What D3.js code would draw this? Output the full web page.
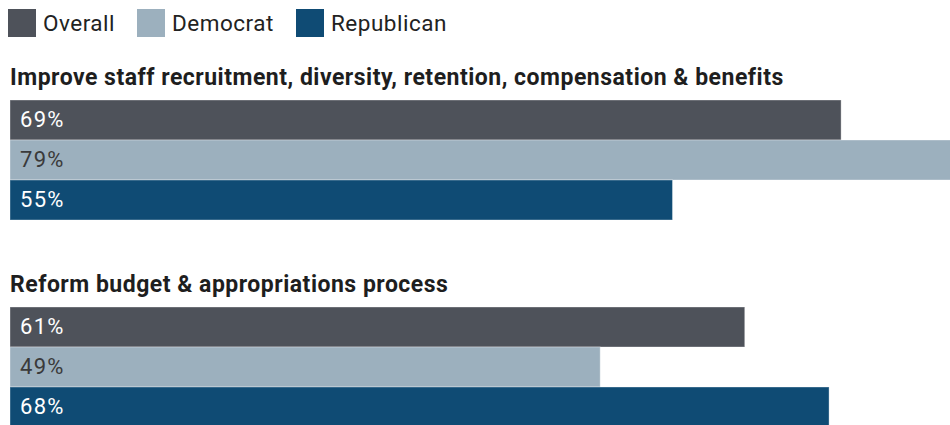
<!DOCTYPE html>
<html>
<head>
<meta charset="utf-8">
<script src="https://cdn.jsdelivr.net/npm/d3@7"></script>
<style>
  html, body { margin: 0; padding: 0; background: #fff; overflow: hidden; }
  svg { display: block; font-family: Roboto, "Noto Sans", sans-serif; }
</style>
</head>
<body>
<svg id="chart" width="950" height="425"></svg>
<script>
// Survey items and share of respondents supporting each, by group
const series = ["Overall", "Democrat", "Republican"];
const questions = [
  "Improve staff recruitment, diversity, retention, compensation & benefits",
  "Reform budget & appropriations process"
];
const overallValues = [69, 61];
const democratValues = [79, 49];
const republicanValues = [55, 68];
const valuesBySeries = [overallValues, democratValues, republicanValues];

const colors = { Overall: "#4e525a", Democrat: "#9cb0be", Republican: "#0f4b74" };
const labelColors = { Overall: "#ffffff", Democrat: "#3a3a3a", Republican: "#ffffff" };

const svg = d3.select("#chart");
const left = 10;
const pxPerPoint = 12.045;

const x = d3.scaleLinear().domain([0, 79]).range([left, left + 79 * pxPerPoint]);
const groupY = d3.scaleBand().domain(questions).range([68, 68 + 207 * 2]);
const barY = d3.scaleBand().domain(series).range([0, 120]).paddingInner(0);
const color = d3.scaleOrdinal().domain(series).range(series.map(s => colors[s]));

// Legend
const legend = svg.append("g").attr("class", "legend");
const legendX = [8, 137, 296];
series.forEach((s, i) => {
  const g = legend.append("g").attr("transform", `translate(${legendX[i]},9)`);
  g.append("rect").attr("width", 28).attr("height", 28).attr("fill", color(s));
  g.append("text")
    .attr("x", 35).attr("y", 22)
    .attr("font-size", 22.5)
    .attr("letter-spacing", 0.5)
    .attr("fill", "#222")
    .text(s);
});

// Question groups
questions.forEach((q, qi) => {
  const g = svg.append("g").attr("transform", `translate(0,${groupY(q)})`);
  g.append("text")
    .attr("x", left).attr("y", 17)
    .attr("font-size", 23)
    .attr("letter-spacing", 0.5)
    .attr("font-weight", 700)
    .attr("fill", "#1e1e1e")
    .text(q);

  const bars = g.append("g").attr("transform", "translate(0,32)");
  series.forEach((s, si) => {
    const v = valuesBySeries[si][qi];
    bars.append("rect")
      .attr("x", x(0))
      .attr("y", barY(s))
      .attr("width", x(v) - x(0))
      .attr("height", barY.bandwidth())
      .attr("fill", color(s))
      .attr("stroke", "#ffffff")
      .attr("stroke-opacity", 0.35)
      .attr("stroke-width", 1);
    bars.append("text")
      .attr("x", x(0) + 10)
      .attr("y", barY(s) + barY.bandwidth() / 2 + 7)
      .attr("font-size", 22)
      .attr("letter-spacing", 1.3)
      .attr("fill", labelColors[s])
      .text(v + "%");
  });
});
</script>
</body>
</html>
